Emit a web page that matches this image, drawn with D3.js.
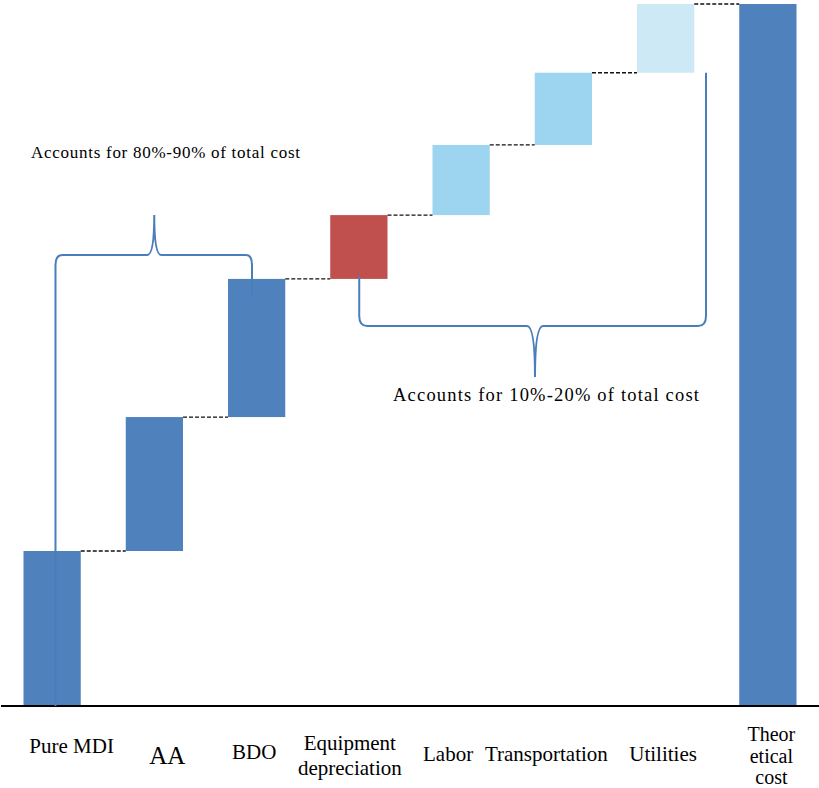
<!DOCTYPE html>
<html>
<head>
<meta charset="utf-8">
<script src="https://cdn.jsdelivr.net/npm/d3@7"></script>
<style>
  body { margin: 0; background: #fff; }
  svg { display: block; }
</style>
</head>
<body>
<div id="chart"></div>
<script>
// cost components, share of total cost (%)
const categories = ["Pure MDI", "AA", "BDO", "Equipment depreciation", "Labor", "Transportation", "Utilities", "Theoretical cost"];
const labelLines = [["Pure MDI"], ["AA"], ["BDO"], ["Equipment", "depreciation"], ["Labor"], ["Transportation"], ["Utilities"], ["Theor", "etical", "cost"]];
const values = [22.1, 19.1, 19.7, 9.1, 10.0, 10.3, 9.8];
const barColors = ["#4f81bd", "#4f81bd", "#4f81bd", "#c0504d", "#9dd4ef", "#9dd4ef", "#cde9f6", "#4f81bd"];
const notes = ["Accounts for 80%-90% of total cost", "Accounts for 10%-20% of total cost"];

const width = 819;
const height = 788;
const baseY = 706;
const serif = "'Liberation Serif', 'Times New Roman', serif";

// build waterfall steps
let running = 0;
const steps = values.map((v, i) => {
  const s = { name: categories[i], start: running, end: running + v };
  running += v;
  return s;
});
const total = running;
steps.push({ name: categories[7], start: 0, end: total });

const x = d3.scaleBand()
  .domain(categories)
  .range([1, 819])
  .paddingInner(0.44)
  .paddingOuter(0.22);

const y = d3.scaleLinear()
  .domain([0, total])
  .range([baseY, 4]);

const svg = d3.select("#chart")
  .append("svg")
  .attr("width", width)
  .attr("height", height)
  .attr("viewBox", [0, 0, width, height]);

// bars
svg.append("g")
  .selectAll("rect")
  .data(steps)
  .join("rect")
  .attr("x", d => x(d.name))
  .attr("width", x.bandwidth())
  .attr("y", d => y(d.end))
  .attr("height", d => y(d.start) - y(d.end))
  .attr("fill", (d, i) => barColors[i]);

// dashed connectors
svg.append("g")
  .selectAll("line")
  .data(steps.slice(0, -1))
  .join("line")
  .attr("x1", d => x(d.name) + x.bandwidth())
  .attr("x2", (d, i) => x(categories[i + 1]))
  .attr("y1", d => y(d.end))
  .attr("y2", d => y(d.end))
  .attr("stroke", "#111")
  .attr("stroke-width", 1.3)
  .attr("stroke-dasharray", "4,2");

// x axis line
svg.append("line")
  .attr("x1", 1).attr("x2", width)
  .attr("y1", baseY).attr("y2", baseY)
  .attr("stroke", "#000")
  .attr("stroke-width", 2);

// category labels (hand placed like the original)
const labelShift = [19.5, 13, -2.5, -9, -13, -17, -2.5, 3.5];
const labelBase = [753, 764, 759, 750, 761, 761, 761, 741];
const labelSize = [21, 25, 21, 21, 21, 21, 21, 20];
const lineGap = [0, 0, 0, 25, 0, 0, 0, 21.5];

const labels = svg.append("g")
  .attr("font-family", serif)
  .attr("text-anchor", "middle")
  .attr("fill", "#000")
  .selectAll("text")
  .data(categories)
  .join("text")
  .attr("x", (d, i) => x(d) + x.bandwidth() / 2 + labelShift[i])
  .attr("y", (d, i) => labelBase[i])
  .attr("font-size", (d, i) => labelSize[i]);

labels.each(function(d, i) {
  d3.select(this).selectAll("tspan")
    .data(labelLines[i])
    .join("tspan")
    .attr("x", x(d) + x.bandwidth() / 2 + labelShift[i])
    .attr("dy", (t, j) => j === 0 ? 0 : lineGap[i])
    .text(t => t);
});

// braces
const braceColor = "#4a7ebb";
const lx = x(categories[0]) + 32;
const rx = x(categories[2]) + 24;
const ly = y(steps[2].end) - 24;
const lmid = (lx + rx) / 2 + 0.5;
const leftBrace = `M${lx},${baseY} V${ly + 10} Q${lx},${ly} ${lx + 7},${ly} H${lmid - 7} Q${lmid},${ly} ${lmid},${ly - 40} Q${lmid},${ly} ${lmid + 7},${ly} H${rx - 6} Q${rx},${ly} ${rx},${ly + 10} V${ly + 40}`;

const r1 = x(categories[3]) + 29;
const r2 = x(categories[6]) + 69;
const ry = y(steps[3].start) + 47;
const rmid = 535;
const rightBrace = `M${r1},${y(steps[3].start) - 3} V${ry - 10} Q${r1},${ry} ${r1 + 8},${ry} H${rmid - 8} Q${rmid},${ry} ${rmid},${ry + 51} Q${rmid},${ry} ${rmid + 8},${ry} H${r2 - 8} Q${r2},${ry} ${r2},${ry - 10} V${y(steps[6].start)}`;

svg.append("g")
  .attr("fill", "none")
  .attr("stroke", braceColor)
  .attr("stroke-width", 2)
  .selectAll("path")
  .data([leftBrace, rightBrace])
  .join("path")
  .attr("d", d => d);

// notes
svg.append("text")
  .attr("x", 31)
  .attr("y", 158)
  .attr("font-family", serif)
  .attr("font-size", 17)
  .attr("textLength", 269)
  .attr("lengthAdjust", "spacing")
  .text(notes[0]);

svg.append("text")
  .attr("x", 393)
  .attr("y", 401)
  .attr("font-family", serif)
  .attr("font-size", 18.5)
  .attr("textLength", 306)
  .attr("lengthAdjust", "spacing")
  .text(notes[1]);
</script>
</body>
</html>
